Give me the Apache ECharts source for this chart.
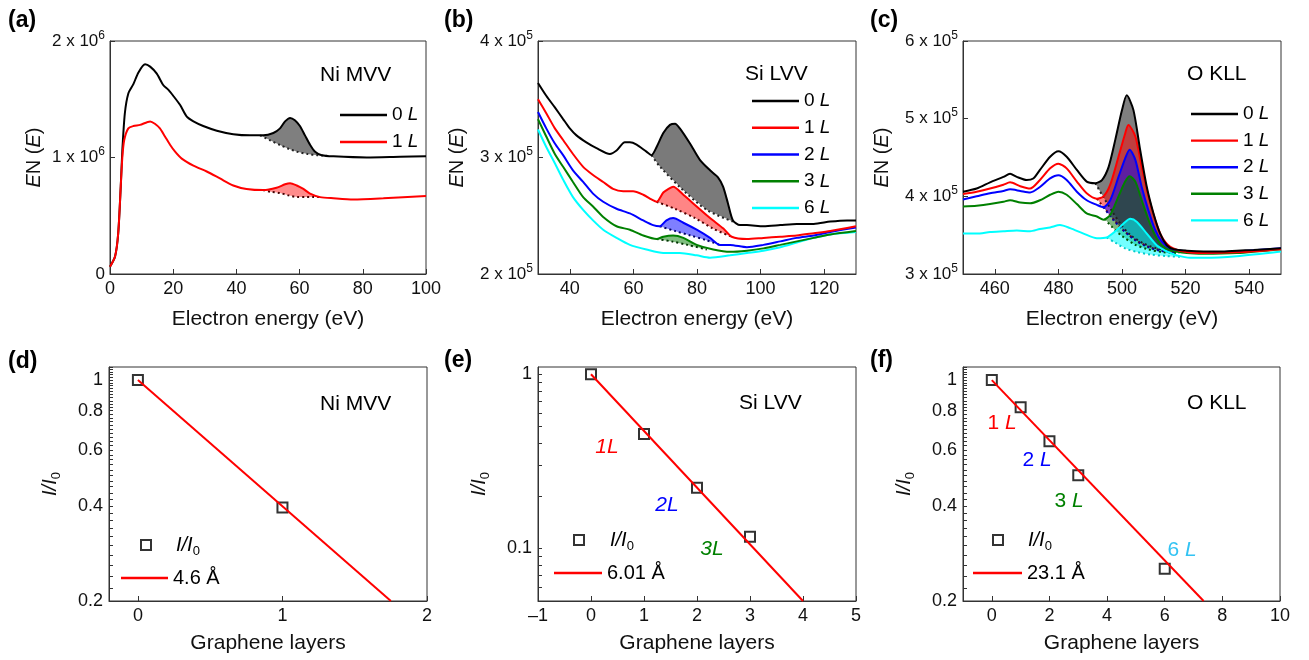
<!DOCTYPE html>
<html><head><meta charset="utf-8">
<script src="https://cdn.jsdelivr.net/npm/echarts@6/dist/echarts.min.js"></script>
<style>html,body{margin:0;padding:0;background:#fff}#c{width:1309px;height:660px}</style>
</head><body><div id="c"></div>
<script>
// ---------- Panel (a): Ni MVV, EN(E) in units of 1e6 ----------
const niE0 = [0, 1.6, 2.6, 3.4, 3.9, 4.7, 5.8, 7.4, 9, 11.1, 12.7, 14.8, 16.9, 18.5, 20, 22.2, 24.3, 26.4, 29.5, 33.8, 39, 44.3, 48.5, 51.7, 53.8, 55.4, 57, 58.5, 60.1, 61.7, 63.3, 64.9, 67, 70.7, 81.2, 91.8, 100];
const niV0 = [0.063, 0.15, 0.35, 0.75, 1.06, 1.38, 1.55, 1.63, 1.73, 1.80, 1.78, 1.72, 1.62, 1.58, 1.53, 1.45, 1.35, 1.31, 1.27, 1.23, 1.20, 1.19, 1.19, 1.21, 1.25, 1.31, 1.34, 1.32, 1.27, 1.19, 1.11, 1.05, 1.02, 1.01, 1.00, 1.006, 1.01];
const niE1 = [0, 1.6, 2.6, 3.4, 3.9, 4.5, 5.8, 7.4, 9.5, 12.7, 14.2, 15.8, 17.4, 19, 20.6, 22.7, 26.4, 30.6, 34.8, 39, 43.2, 48.5, 52.7, 55.4, 57, 59.1, 61.2, 63.3, 66.5, 70.7, 77, 86.5, 100];
const niV1 = [0.063, 0.15, 0.35, 0.75, 1.0, 1.15, 1.25, 1.27, 1.28, 1.31, 1.29, 1.25, 1.18, 1.11, 1.05, 0.99, 0.93, 0.88, 0.82, 0.76, 0.73, 0.72, 0.74, 0.77, 0.78, 0.76, 0.73, 0.69, 0.66, 0.65, 0.64, 0.65, 0.67];
const niB0x = [47.5, 50.5, 53.8, 56.5, 59.2, 62.5, 65.5, 68.7];
const niB0y = [1.19, 1.15, 1.107, 1.075, 1.05, 1.03, 1.02, 1.015];
const niB1x = [48.4, 51, 53.8, 56.5, 59.2, 62, 64.2, 66.5];
const niB1y = [0.72, 0.705, 0.695, 0.675, 0.66, 0.66, 0.66, 0.66];

// ---------- Panel (b): Si LVV, units of 1e5 ----------
const siE0 = [30, 32.6, 35.3, 37.9, 40, 42.1, 45.2, 48.4, 52.6, 54.7, 57.3, 58.9, 61, 64.1, 65.7, 67.3, 69.4, 71.5, 73.1, 74.6, 77.8, 80.9, 84.1, 86.6, 88.2, 89.7, 91.3, 93.5, 95.7, 100.9, 106.2, 111.4, 116.7, 121.9, 127.2, 130];
const siV0 = [3.64, 3.53, 3.43, 3.33, 3.25, 3.19, 3.13, 3.08, 3.03, 3.06, 3.13, 3.13, 3.11, 3.05, 3.02, 3.09, 3.21, 3.28, 3.29, 3.25, 3.12, 2.98, 2.89, 2.83, 2.75, 2.61, 2.46, 2.42, 2.42, 2.41, 2.42, 2.43, 2.43, 2.45, 2.46, 2.46];
const siE1 = [30, 32.6, 35.3, 37.9, 41, 44.2, 47.3, 50.5, 53.6, 56.8, 59.9, 63.1, 65.7, 67.3, 69.4, 71, 72.5, 75.7, 79.9, 84.1, 88.3, 90.9, 95.7, 100.9, 106.2, 111.4, 116.7, 121.9, 130];
const siV1 = [3.50, 3.38, 3.25, 3.15, 3.03, 2.92, 2.85, 2.79, 2.73, 2.71, 2.71, 2.68, 2.64, 2.62, 2.70, 2.73, 2.75, 2.68, 2.58, 2.48, 2.39, 2.32, 2.30, 2.31, 2.32, 2.33, 2.35, 2.37, 2.41];
const siE2 = [30, 32.6, 35.3, 37.9, 41, 44.2, 47.3, 50.5, 54.7, 58.9, 63.1, 66.2, 68.3, 70.4, 72.5, 75.7, 79.9, 84.1, 87.2, 90.4, 95.7, 100.9, 106.2, 111.4, 116.7, 121.9, 130];
const siV2 = [3.39, 3.25, 3.12, 3.02, 2.89, 2.79, 2.69, 2.62, 2.56, 2.52, 2.46, 2.42, 2.41, 2.46, 2.48, 2.44, 2.38, 2.31, 2.25, 2.25, 2.23, 2.25, 2.28, 2.31, 2.33, 2.36, 2.40];
const siE3 = [30, 32.6, 35.3, 37.9, 41, 44.2, 47.3, 50.5, 54.7, 58.9, 63.1, 67.3, 69.4, 72.5, 75.7, 79.9, 85.1, 90.4, 95.7, 100.9, 106.2, 111.4, 116.7, 121.9, 130];
const siV3 = [3.33, 3.18, 3.03, 2.92, 2.79, 2.66, 2.58, 2.49, 2.41, 2.38, 2.33, 2.30, 2.32, 2.33, 2.31, 2.25, 2.21, 2.19, 2.20, 2.22, 2.25, 2.28, 2.31, 2.34, 2.37];
const siE6 = [30, 32.6, 35.3, 37.9, 41, 44.2, 47.3, 50.5, 54.7, 58.9, 64.1, 69.4, 74.6, 79.9, 84.1, 90.4, 95.7, 100.9, 106.2, 111.4, 116.7, 121.9, 130];
const siV6 = [3.24, 3.09, 2.95, 2.81, 2.66, 2.55, 2.46, 2.38, 2.31, 2.25, 2.21, 2.18, 2.18, 2.16, 2.14, 2.16, 2.18, 2.20, 2.23, 2.27, 2.31, 2.34, 2.36];
const siB0x = [65.7, 68.4, 75.6, 83.1, 91.3];
const siB0y = [3.02, 2.92, 2.72, 2.55, 2.45];
const siB1x = [67.3, 73, 79.4, 85, 90.9];
const siB1y = [2.62, 2.56, 2.48, 2.39, 2.32];
const siB2x = [68.3, 73, 78, 83, 87.2];
const siB2y = [2.41, 2.37, 2.33, 2.29, 2.25];
const siB3x = [67.3, 72, 77, 83.1];
const siB3y = [2.30, 2.28, 2.25, 2.21];

// ---------- Panel (c): O KLL, units of 1e5 ----------
const oE0 = [450, 454.3, 458.5, 462.7, 464.8, 466.9, 470, 472.1, 474.2, 477.4, 480, 482.6, 485.8, 488.9, 491.6, 493.7, 495.8, 497.9, 500, 501.5, 503.6, 505.7, 507.8, 509.9, 512, 514.1, 516.2, 520.4, 525.7, 530.9, 536.1, 541.4, 550];
const oV0 = [4.06, 4.10, 4.18, 4.25, 4.29, 4.25, 4.21, 4.23, 4.34, 4.51, 4.58, 4.51, 4.34, 4.19, 4.17, 4.21, 4.38, 4.73, 5.11, 5.30, 5.11, 4.60, 4.12, 3.78, 3.52, 3.37, 3.32, 3.30, 3.29, 3.29, 3.30, 3.31, 3.33];
const oE1 = [450, 454.3, 458.5, 462.7, 464.8, 468, 471.1, 474.2, 477.4, 480, 482.6, 485.8, 488.9, 492.1, 494.2, 496.3, 498.9, 501, 502, 504.2, 506.2, 508.3, 510.4, 512.5, 515.2, 519.4, 525.7, 536.1, 550];
const oV1 = [4.03, 4.06, 4.10, 4.15, 4.18, 4.13, 4.10, 4.21, 4.36, 4.42, 4.36, 4.19, 4.04, 3.97, 4.00, 4.15, 4.51, 4.81, 4.92, 4.77, 4.38, 4.00, 3.70, 3.48, 3.35, 3.29, 3.27, 3.28, 3.32];
const oE2 = [450, 454.3, 458.5, 462.7, 464.8, 468, 471.1, 474.2, 477.4, 480, 482.6, 485.8, 488.9, 492.1, 494.2, 496.3, 498.9, 501, 502.4, 504.2, 506.2, 508.3, 510.4, 512.5, 515.2, 520.4, 525.7, 536.1, 550];
const oV2 = [3.96, 4.00, 4.04, 4.07, 4.09, 4.07, 4.05, 4.12, 4.23, 4.27, 4.21, 4.06, 3.95, 3.89, 3.86, 3.95, 4.25, 4.49, 4.60, 4.47, 4.12, 3.82, 3.57, 3.42, 3.33, 3.29, 3.27, 3.29, 3.33];
const oE3 = [450, 454.3, 458.5, 462.7, 464.8, 468, 471.1, 474.2, 477.4, 480, 482.6, 485.8, 488.9, 492.1, 494.2, 496.3, 498.9, 501, 502.4, 504.2, 506.2, 508.3, 510.4, 512.5, 515.2, 520.4, 525.7, 536.1, 550];
const oV3 = [3.87, 3.88, 3.90, 3.93, 3.95, 3.92, 3.91, 3.95, 4.02, 4.06, 4.02, 3.90, 3.78, 3.74, 3.70, 3.76, 4.00, 4.19, 4.26, 4.19, 3.95, 3.70, 3.50, 3.37, 3.31, 3.27, 3.26, 3.27, 3.32];
const oE6 = [450, 454.3, 458.5, 462.7, 466.9, 471.1, 474.2, 477.4, 480.5, 483.7, 487.9, 492.1, 495.2, 497.9, 500.5, 502.6, 504.7, 507.8, 510.9, 514.1, 517.3, 521.5, 525.7, 536.1, 550];
const oV6 = [3.52, 3.52, 3.54, 3.55, 3.56, 3.55, 3.58, 3.60, 3.63, 3.59, 3.52, 3.46, 3.47, 3.55, 3.65, 3.71, 3.67, 3.52, 3.37, 3.29, 3.24, 3.21, 3.21, 3.23, 3.29];
const oB0x = [491.6, 494, 497, 500, 503, 507, 511, 516.2];
const oB0y = [4.17, 4.00, 3.80, 3.62, 3.49, 3.39, 3.33, 3.31];
const oB1x = [492.1, 495, 498, 501, 505, 509, 513, 517];
const oB1y = [3.97, 3.82, 3.67, 3.54, 3.42, 3.34, 3.30, 3.28];
const oB2x = [494.2, 497, 500, 504, 508, 512, 517];
const oB2y = [3.86, 3.71, 3.58, 3.44, 3.35, 3.30, 3.28];
const oB3x = [494.5, 497, 500, 504, 508, 513, 518];
const oB3y = [3.71, 3.60, 3.49, 3.38, 3.32, 3.28, 3.27];
const oB6x = [495.2, 498, 501, 505, 509, 514, 519];
const oB6y = [3.47, 3.40, 3.33, 3.28, 3.25, 3.23, 3.22];

// ---------- Panels (d)-(f): I/I0 vs graphene layers ----------
const layersD = [0, 1];          const ratioD = [1, 0.395];
const fitDx = [0, 1.75];         const fitDy = [1, 0.2];
const layersE = [0, 1, 2, 3];    const ratioE = [1, 0.454, 0.223, 0.117];
const fitEx = [0, 4];            const fitEy = [1, 0.05];
const layersF = [0, 1, 2, 3, 6]; const ratioF = [1, 0.82, 0.64, 0.50, 0.253];
const fitFx = [0, 7.35];         const fitFy = [1, 0.2];

const majorDF = [0.2, 0.4, 0.6, 0.8, 1];
const majorE = [0.1, 1];
const legendSpectra = ['0L', '1L', '2L', '3L', '6L'];

// ---------- helpers ----------
const FONT = '"Liberation Sans", Arial, Helvetica, sans-serif';
const AX = '#333';
const C = {k: '#000000', r: '#ff0000', b: '#0000ff', g: '#008000', c: '#00ffff'};
const pair = (xs, ys) => xs.map((x, k) => [x, ys[k]]);
const logPair = (xs, ys) => xs.map((x, k) => [x, Math.log10(ys[k])]);
const L10 = a => a.map(v => Math.log10(v));
function tickList(a, b, step) { const r = []; for (let v = a; v <= b + 1e-9; v += step) r.push(Math.log10(+v.toFixed(4))); return r; }
const ticksDF = tickList(0.2, 1.1, 0.02);
const ticksE = [0.06, 0.07, 0.08, 0.09, 0.1, 0.2, 0.3, 0.4, 0.5, 0.6, 0.7, 0.8, 0.9, 1].map(v => Math.log10(v));
const dashNum = v => v < 0 ? '\u2013' + Math.abs(v) : String(v);

const grids = [
  {left: 110, top: 41, width: 316, height: 233},
  {left: 538, top: 41, width: 318, height: 233},
  {left: 963, top: 41, width: 318, height: 233},
  {left: 109, top: 367, width: 318, height: 234},
  {left: 538, top: 367, width: 318, height: 234},
  {left: 963, top: 367, width: 317, height: 234}
].map(g => Object.assign({show: true, borderColor: AX, borderWidth: 1, backgroundColor: 'transparent', containLabel: false, outerBoundsMode: 'none'}, g));

function xAx(gi, min, max, name, gap, extra) {
  return Object.assign({
    type: 'value', gridIndex: gi, min: min, max: max,
    axisLine: {show: true, onZero: false, lineStyle: {color: AX, width: 1}},
    axisTick: {inside: true, length: 5, lineStyle: {color: AX}},
    axisLabel: {fontSize: 18, color: '#111', fontFamily: FONT, margin: 6, formatter: dashNum},
    splitLine: {show: false},
    name: name, nameLocation: 'middle', nameGap: gap,
    nameTextStyle: {fontSize: 21, color: '#111', fontFamily: FONT}
  }, extra || {});
}
function tickCustom(vals) {
  return {
    axisTick: {inside: true, length: 5, lineStyle: {color: AX}, customValues: vals},
    axisLabel: {fontSize: 18, color: '#111', fontFamily: FONT, margin: 6, customValues: vals, formatter: dashNum}
  };
}
const supRich = {sup: {fontSize: 12, fontFamily: FONT, color: '#111', padding: [0, 0, 11, 0]}};
function yAxSci(gi, min, max, exp) {
  return {
    type: 'value', gridIndex: gi, min: min, max: max, interval: 1,
    axisLine: {show: true, onZero: false, lineStyle: {color: AX}},
    axisTick: {inside: true, length: 5, lineStyle: {color: AX}},
    axisLabel: {fontSize: 17, color: '#111', fontFamily: FONT, margin: 5,
      formatter: v => v === 0 ? '0' : v + ' x 10{sup|' + exp + '}', rich: supRich},
    splitLine: {show: false},
    name: '{i|E}N ({i|E})', nameLocation: 'middle', nameGap: gi === 0 ? 66 : 71,
    nameTextStyle: {fontSize: 20, color: '#111', fontFamily: FONT,
      rich: {i: {fontStyle: 'italic', fontSize: 20, fontFamily: FONT, color: '#111'}}}
  };
}
function yAxLog(gi, min, max, majors, ticks, gap) {
  const vals = L10(majors);
  return {
    type: 'value', gridIndex: gi, min: Math.log10(min), max: Math.log10(max),
    axisLine: {show: true, onZero: false, lineStyle: {color: AX}},
    axisTick: {inside: true, length: 4, lineStyle: {color: AX}, customValues: ticks},
    axisLabel: {fontSize: 18, color: '#111', fontFamily: FONT, margin: 6, customValues: vals,
      formatter: v => String(parseFloat(Math.pow(10, v).toPrecision(2)))},
    splitLine: {show: false},
    name: '{i|I/I}{sub|0}', nameLocation: 'middle', nameGap: gap,
    nameTextStyle: {fontSize: 20, color: '#111', fontFamily: FONT,
      rich: {i: {fontStyle: 'italic', fontSize: 20, fontFamily: FONT, color: '#111'},
             sub: {fontSize: 13, fontFamily: FONT, color: '#111', padding: [12, 0, 0, 0]}}}
  };
}

const xAxis = [
  xAx(0, 0, 100, 'Electron energy (eV)', 35, {interval: 20}),
  xAx(1, 30, 130, 'Electron energy (eV)', 35, tickCustom([40, 60, 80, 100, 120])),
  xAx(2, 450, 550, 'Electron energy (eV)', 35, tickCustom([460, 480, 500, 520, 540])),
  xAx(3, -0.2, 2, 'Graphene layers', 32, tickCustom([0, 1, 2])),
  xAx(4, -1, 5, 'Graphene layers', 32, {interval: 1}),
  xAx(5, -1, 10, 'Graphene layers', 32, tickCustom([0, 2, 4, 6, 8, 10]))
];
const yAxis = [
  yAxSci(0, 0, 2, 6),
  yAxSci(1, 2, 4, 5),
  yAxSci(2, 3, 6, 5),
  yAxLog(3, 0.2, 1.1, majorDF, ticksDF, 46),
  yAxLog(4, 0.05, 1.1, majorE, ticksE, 46),
  yAxLog(5, 0.2, 1.1, majorDF, ticksDF, 46)
];

function line(gi, name, xs, ys, color) {
  return {type: 'line', name: name, xAxisIndex: gi, yAxisIndex: gi, data: pair(xs, ys),
    symbol: 'none', smooth: 0.25, lineStyle: {color: color, width: 2}, itemStyle: {color: color},
    z: 4, silent: true};
}
function base(gi, xs, ys, color) {
  return {type: 'line', xAxisIndex: gi, yAxisIndex: gi, data: pair(xs, ys), symbol: 'none',
    smooth: 0.3, lineStyle: {color: color, width: 2, type: [2, 3]}, z: 3, silent: true};
}
function fill(gi, cx, cy, bx, by, color) {
  return {type: 'custom', xAxisIndex: gi, yAxisIndex: gi, data: [[bx[0], by[0]]], z: 2, silent: true,
    renderItem: function (params, api) {
      const pts = [];
      for (let k = 0; k < bx.length; k++) pts.push(api.coord([bx[k], by[k]]));
      for (let k = cx.length - 1; k >= 0; k--) {
        if (cx[k] > bx[0] && cx[k] < bx[bx.length - 1]) pts.push(api.coord([cx[k], cy[k]]));
      }
      return {type: 'polygon', shape: {points: pts}, style: {fill: color}};
    }};
}
function scatter(gi, xs, ys) {
  return {type: 'scatter', name: 'I/I0', xAxisIndex: gi, yAxisIndex: gi, data: logPair(xs, ys),
    symbol: 'rect', symbolSize: 10, silent: true,
    itemStyle: {color: 'rgba(0,0,0,0)', borderColor: '#000', borderWidth: 2}, z: 3};
}
function fit(gi, name, xs, ys) {
  return {type: 'line', name: name, xAxisIndex: gi, yAxisIndex: gi, data: logPair(xs, ys),
    symbol: 'none', lineStyle: {color: '#ff0000', width: 2}, itemStyle: {color: '#ff0000'}, z: 4, silent: true};
}

const series = [
  // (a)
  fill(0, niE0, niV0, niB0x, niB0y, 'rgba(0,0,0,0.5)'),
  fill(0, niE1, niV1, niB1x, niB1y, 'rgba(255,0,0,0.45)'),
  base(0, niB0x, niB0y, '#222'),
  base(0, niB1x, niB1y, '#400'),
  line(0, '0L', niE0, niV0, C.k),
  line(0, '1L', niE1, niV1, C.r),
  // (b)
  fill(1, siE0, siV0, siB0x, siB0y, 'rgba(0,0,0,0.52)'),
  fill(1, siE1, siV1, siB1x, siB1y, 'rgba(255,0,0,0.48)'),
  fill(1, siE2, siV2, siB2x, siB2y, 'rgba(0,0,255,0.5)'),
  fill(1, siE3, siV3, siB3x, siB3y, 'rgba(0,128,0,0.5)'),
  base(1, siB0x, siB0y, '#222'),
  base(1, siB1x, siB1y, '#500'),
  base(1, siB2x, siB2y, '#006'),
  base(1, siB3x, siB3y, '#030'),
  line(1, '6L', siE6, siV6, C.c),
  line(1, '3L', siE3, siV3, C.g),
  line(1, '2L', siE2, siV2, C.b),
  line(1, '1L', siE1, siV1, C.r),
  line(1, '0L', siE0, siV0, C.k),
  // (c)
  fill(2, oE0, oV0, oB0x, oB0y, 'rgba(0,0,0,0.5)'),
  fill(2, oE1, oV1, oB1x, oB1y, 'rgba(255,0,0,0.5)'),
  fill(2, oE2, oV2, oB2x, oB2y, 'rgba(0,0,255,0.5)'),
  fill(2, oE3, oV3, oB3x, oB3y, 'rgba(0,110,0,0.5)'),
  fill(2, oE6, oV6, oB6x, oB6y, 'rgba(0,255,255,0.55)'),
  base(2, oB0x, oB0y, '#222'),
  base(2, oB1x, oB1y, '#700'),
  base(2, oB2x, oB2y, '#00a'),
  base(2, oB3x, oB3y, '#050'),
  base(2, oB6x, oB6y, '#0cc'),
  line(2, '6L', oE6, oV6, C.c),
  line(2, '3L', oE3, oV3, C.g),
  line(2, '2L', oE2, oV2, C.b),
  line(2, '1L', oE1, oV1, C.r),
  line(2, '0L', oE0, oV0, C.k),
  // (d)-(f)
  scatter(3, layersD, ratioD), fit(3, '4.6 Å', fitDx, fitDy),
  scatter(4, layersE, ratioE), fit(4, '6.01 Å', fitEx, fitEy),
  scatter(5, layersF, ratioF), fit(5, '23.1 Å', fitFx, fitFy)
];

const specLegendText = {fontSize: 19, color: '#000', fontFamily: FONT, lineHeight: 20,
  rich: {i: {fontStyle: 'italic', fontSize: 19, fontFamily: FONT, color: '#000', lineHeight: 20}}};
function specLegend(left, top, names, gap) {
  return {orient: 'vertical', left: left, top: top, padding: 0, itemWidth: 47, itemHeight: 2.4, itemGap: gap,
    icon: 'rect', symbolKeepAspect: false,
    selectedMode: false, data: names, textStyle: specLegendText,
    formatter: n => n.charAt(0) + ' {i|L}'};
}
function fitText(padLeft) {
  return {fontSize: 20, color: '#000', fontFamily: FONT, lineHeight: 22,
    rich: {i: {fontStyle: 'italic', fontSize: 20, fontFamily: FONT, color: '#000', lineHeight: 22, padding: [0, 0, 0, padLeft]},
           sub: {fontSize: 13, fontFamily: FONT, color: '#000', padding: [12, 0, 0, 0]}}};
}
function markLegend(iconCenter, top, textStart) {
  return {orient: 'vertical', left: iconCenter - 5, top: top, padding: 0, itemWidth: 10, itemHeight: 10,
    selectedMode: false,
    data: [{name: 'I/I0', icon: 'rect', itemStyle: {color: 'rgba(0,0,0,0)', borderColor: '#000', borderWidth: 2}}],
    textStyle: fitText(textStart - (iconCenter + 10)), formatter: () => '{i|I/I}{sub|0}'};
}
function fitLegend(left, top, width, fitName) {
  return {orient: 'vertical', left: left, top: top, padding: 0, itemWidth: width, itemHeight: 2.4,
    icon: 'rect', symbolKeepAspect: false, selectedMode: false,
    data: [fitName], textStyle: fitText(0)};
}
const legend = [
  specLegend(340, 105, legendSpectra.slice(0, 2), 7),
  specLegend(752, 91, legendSpectra, 6.75),
  specLegend(1191, 104, legendSpectra, 6.6),
  markLegend(145, 534, 175), fitLegend(121, 567, 47, '4.6 Å'),
  markLegend(578, 529, 609), fitLegend(554, 562, 48, '6.01 Å'),
  markLegend(997, 529, 1027), fitLegend(973, 562, 49, '23.1 Å')
];

function txt(x, y, text, font, color, align, rich) {
  const st = {text: text, font: font, fill: color || '#000', textAlign: align || 'left', textVerticalAlign: 'middle',
    align: align || 'left', verticalAlign: 'middle'};
  if (rich) st.rich = rich;
  return {type: 'text', x: x, y: y, silent: true, z: 100, style: st};
}
const BOLD = 'bold 23px ' + FONT;
const T21 = '21px ' + FONT;
const IT21 = 'italic 21px ' + FONT;
const iRich = {i: {fontStyle: 'italic', fontSize: 21, fontFamily: FONT}};
const graphic = [
  txt(8, 21, '(a)', BOLD), txt(444, 21, '(b)', BOLD), txt(870, 21, '(c)', BOLD),
  txt(8, 362, '(d)', BOLD), txt(444, 361, '(e)', BOLD), txt(870, 361, '(f)', BOLD),
  txt(320, 75, 'Ni MVV', T21), txt(745, 74, 'Si LVV', T21), txt(1187, 74, 'O KLL', T21),
  txt(320, 404, 'Ni MVV', T21), txt(739, 403, 'Si LVV', T21), txt(1187, 403, 'O KLL', T21),
  txt(607, 447, '1L', IT21, '#ff0000', 'center'),
  txt(667, 505, '2L', IT21, '#0000ff', 'center'),
  txt(712, 549, '3L', IT21, '#008000', 'center'),
  txt(1002, 423, '1 {i|L}', T21, '#ff0000', 'center', iRich),
  txt(1037, 460, '2 {i|L}', T21, '#0000ff', 'center', iRich),
  txt(1069, 501, '3 {i|L}', T21, '#008000', 'center', iRich),
  txt(1182, 550, '6 {i|L}', T21, '#33c3f3', 'center', iRich)
];

const chart = echarts.init(document.getElementById('c'), null, {renderer: 'canvas'});
chart.setOption({
  animation: false, backgroundColor: '#fff',
  textStyle: {fontFamily: FONT},
  grid: grids, xAxis: xAxis, yAxis: yAxis, series: series, legend: legend, graphic: graphic
});
</script></body></html>
